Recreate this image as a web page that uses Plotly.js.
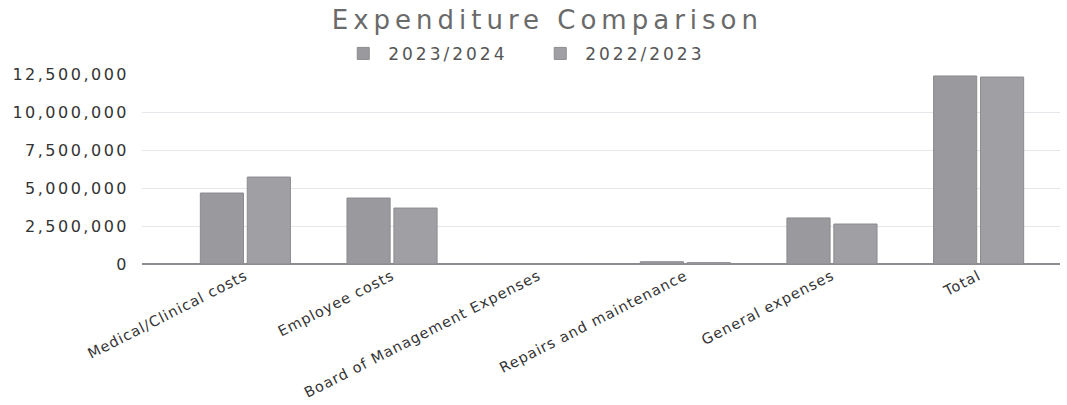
<!DOCTYPE html>
<html>
<head>
<meta charset="utf-8">
<script src="https://cdn.plot.ly/plotly-3.0.1.min.js"></script>
<style>
html,body{margin:0;padding:0;background:#fff;}
#chart{width:1067px;height:405px;}
#chart .gtitle{letter-spacing:5px;}
#chart .legendtext{letter-spacing:3px;}
#chart .ytick text{letter-spacing:2.5px;}
#chart .xtick text{letter-spacing:1px;}
</style>
</head>
<body>
<div id="chart"></div>
<script>
const categories = ["Medical/Clinical costs", "Employee costs", "Board of Management Expenses", "Repairs and maintenance", "General expenses", "Total"];
const seriesNames = ["2023/2024", "2022/2023"];
const values2324 = [4670000, 4340000, 20000, 150000, 3030000, 12370000];
const values2223 = [5720000, 3680000, 20000, 90000, 2630000, 12300000];
const yTicks = [0, 2500000, 5000000, 7500000, 10000000, 12500000];

const font = "DejaVu Sans, sans-serif";
const traces = [
  {type: "bar", name: seriesNames[0], x: categories, y: values2324,
   marker: {color: "#9a9a9e", line: {color: "#8c8c90", width: 1}}},
  {type: "bar", name: seriesNames[1], x: categories, y: values2223,
   marker: {color: "#a0a0a4", line: {color: "#8c8c90", width: 1}}}
];
const layout = {
  width: 1067, height: 405,
  paper_bgcolor: "#ffffff", plot_bgcolor: "#ffffff",
  margin: {l: 142, r: 7, t: 74, b: 141, pad: 0},
  barmode: "group", bargap: 0.36, bargroupgap: 0.08,
  title: {text: "Expenditure Comparison", x: 0.513, xref: "container", y: 0.95, yref: "container", yanchor: "middle",
          font: {family: font, size: 26, color: "#6a6a6a"}},
  showlegend: true,
  legend: {orientation: "h", x: 0.317, xanchor: "left", xref: "container", y: 0.867, yanchor: "middle", yref: "container",
           font: {family: font, size: 17, color: "#555"}, entrywidth: 142, entrywidthmode: "pixels", itemwidth: 40},
  xaxis: {type: "category", range: [-0.705, 5.555], tickangle: -27, showgrid: false, showline: false, ticks: "",
          tickfont: {family: font, size: 14.5, color: "#333"}, automargin: false},
  yaxis: {range: [0, 12500000], tickvals: yTicks, tickformat: ",d", showgrid: true, gridcolor: "#e6e6ec",
          zeroline: true, zerolinecolor: "#8c8c92", zerolinewidth: 1.5, ticks: "", ticklabelstandoff: 12,
          tickfont: {family: font, size: 16, color: "#333"}, automargin: false}
};
Plotly.newPlot("chart", traces, layout, {displayModeBar: false, staticPlot: true});
</script>
</body>
</html>
